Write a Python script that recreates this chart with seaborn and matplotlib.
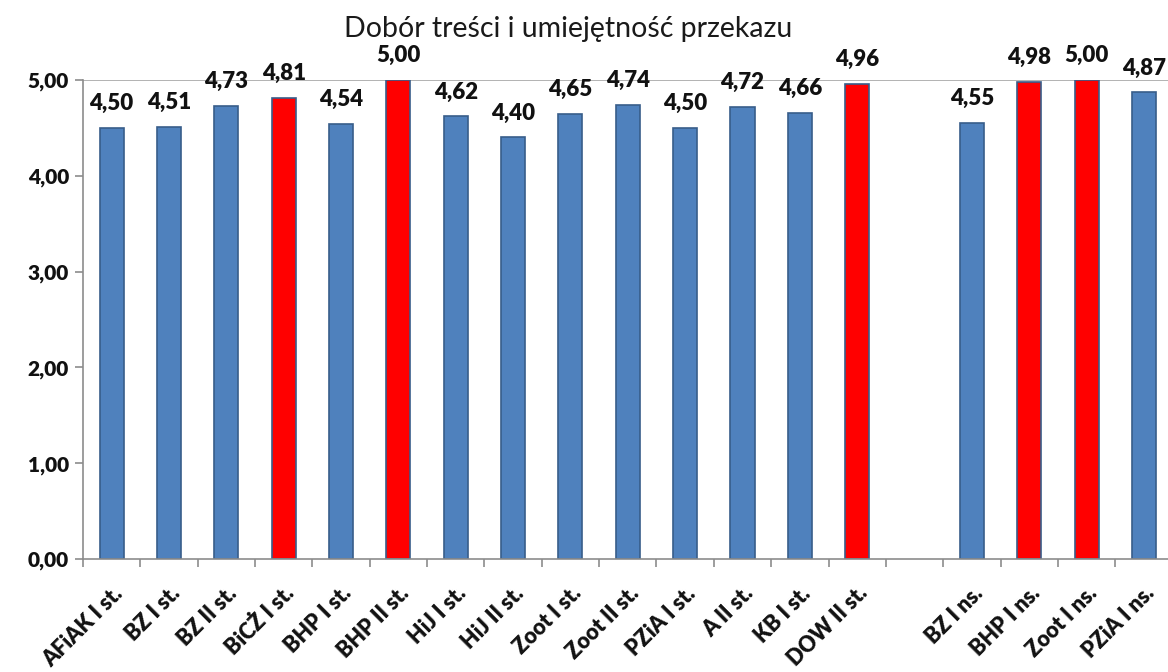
import pandas as pd
import matplotlib.pyplot as plt
import seaborn as sns
from matplotlib.ticker import FixedLocator

# Dane
kierunki = ['AFiAK I st.', 'BZ I st.', 'BZ II st.', 'BiCŻ I st.', 'BHP I st.', 'BHP II st.',
            'HiJ I st.', 'HiJ II st.', 'Zoot I st.', 'Zoot II st.', 'PZiA I st.', 'A II st.',
            'KB I st.', 'DOW II st.', 'BZ I ns.', 'BHP I ns.', 'Zoot I ns.', 'PZiA I ns.']
oceny = [4.50, 4.51, 4.73, 4.81, 4.54, 5.00, 4.62, 4.40, 4.65, 4.74, 4.50, 4.72,
         4.66, 4.96, 4.55, 4.98, 5.00, 4.87]
kolory = ['n', 'n', 'n', 'c', 'n', 'c', 'n', 'n', 'n', 'n', 'n', 'n',
          'n', 'c', 'n', 'c', 'c', 'n']

# pusta kolumna miedzy studiami stacjonarnymi i niestacjonarnymi
kolejnosc = kierunki[:14] + [' '] + kierunki[14:]

df = pd.DataFrame({'kierunek': kierunki, 'ocena': oceny, 'kolor': kolory})

sns.set_style('white')
plt.rcParams['font.family'] = ['Lato', 'DejaVu Sans']

fig = plt.figure(figsize=(11.68, 6.72), dpi=100)
ax = fig.add_axes([0.071, 0.168, 0.933, 0.713])

sns.barplot(data=df, x='kierunek', y='ocena', hue='kolor', order=kolejnosc,
            palette={'n': '#4F81BD', 'c': '#FF0000'}, saturation=1, dodge=False, width=0.42,
            edgecolor='#385D8A', linewidth=1.2, legend=False, ax=ax)

# etykiety wartosci
for cont in ax.containers:
    for bar in cont:
        h = bar.get_height()
        if pd.isna(h):
            continue
        ax.annotate(f'{h:.2f}'.replace('.', ','), (bar.get_x() + bar.get_width() / 2, h),
                    xytext=(0, 10), textcoords='offset points', ha='center', va='bottom',
                    fontsize=16, fontweight='heavy', color='#111111', annotation_clip=False)

ax.set_ylim(0, 5)
ax.set_xlim(-0.5, len(kolejnosc) - 0.5)
ax.axhline(5, color='#a6a6a6', lw=1.2, zorder=0)

ax.set_yticks([0, 1, 2, 3, 4, 5])
ax.set_yticklabels([f'{v:.2f}'.replace('.', ',') for v in range(6)],
                   fontsize=15, fontweight='heavy', color='#111111')
ax.set_xticks(range(len(kolejnosc)))
ax.set_xticklabels(kolejnosc, rotation=45, ha='right', rotation_mode='anchor',
                   fontsize=15.5, fontweight='heavy', color='#111111')
ax.xaxis.set_minor_locator(FixedLocator([i - 0.5 for i in range(len(kolejnosc) + 1)]))
ax.tick_params(axis='x', which='major', bottom=True, length=0, pad=17)
ax.tick_params(axis='x', which='minor', bottom=True, length=6, width=1.2,
               color='#8c8c8c', direction='out')
ax.tick_params(axis='y', left=True, length=6, width=1.2, color='#8c8c8c',
               direction='out', pad=4)

ax.set_xlabel('')
ax.set_ylabel('')
sns.despine(ax=ax, top=True, right=True)
ax.spines['left'].set_color('#8c8c8c')
ax.spines['bottom'].set_color('#8c8c8c')
ax.spines['left'].set_linewidth(1.2)
ax.spines['bottom'].set_linewidth(1.2)

fig.text(0.486, 0.945, 'Dobór treści i umiejętność przekazu', ha='center', va='baseline',
         fontsize=20.5, color='#1a1a1a')

plt.savefig('out.png', dpi=100)
